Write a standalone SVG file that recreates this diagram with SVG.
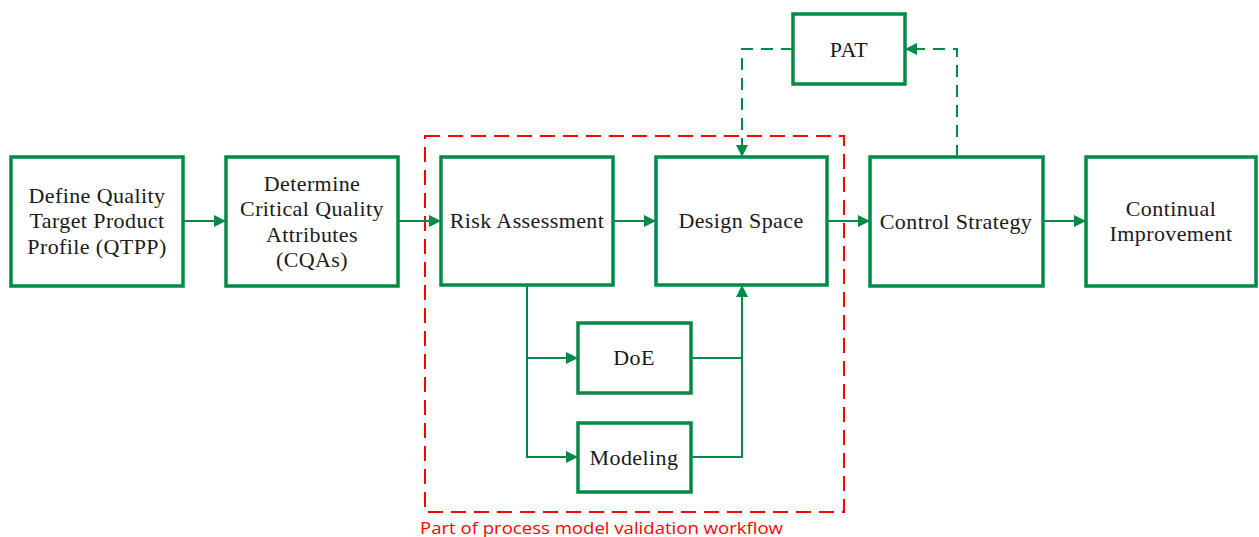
<svg xmlns="http://www.w3.org/2000/svg" width="1259" height="537" viewBox="0 0 1259 537">
<style>
.box{fill:#fff;stroke:#008a47;stroke-width:3.5}
.t{font-family:"Liberation Serif","DejaVu Serif",serif;font-size:22px;letter-spacing:0.4px;fill:#1a1a1a;text-anchor:middle;dominant-baseline:central}
.c{fill:none;stroke:#008a47;stroke-width:2}
.d{fill:none;stroke:#008a47;stroke-width:2;stroke-dasharray:12 8}
</style>
<defs>
<marker id="ah" viewBox="0 0 10 10" refX="10" refY="5" markerWidth="12" markerHeight="12" markerUnits="userSpaceOnUse" orient="auto"><path d="M0 0L10 5L0 10z" fill="#008a47"/></marker>
</defs>
<rect width="1259" height="537" fill="#fff"/>
<g id="region">
<rect x="425" y="136" width="419" height="376" fill="none" stroke="#ff0000" stroke-width="2" stroke-dasharray="15 8"/>
<text x="420" y="534" font-family="'Open Sans','Liberation Sans',sans-serif" font-size="17" fill="#ff0000" textLength="363" lengthAdjust="spacingAndGlyphs">Part of process model validation workflow</text>
</g>
<g id="connectors">
<path class="c" d="M183 221H226" marker-end="url(#ah)"/>
<path class="c" d="M398 221H441" marker-end="url(#ah)"/>
<path class="c" d="M613 221H656" marker-end="url(#ah)"/>
<path class="c" d="M827 221H870" marker-end="url(#ah)"/>
<path class="c" d="M1043 221H1086" marker-end="url(#ah)"/>
<path class="c" d="M527 285V358H578" marker-end="url(#ah)"/>
<path class="c" d="M527 358V457H578" marker-end="url(#ah)"/>
<path class="c" d="M691 358H742"/>
<path class="c" d="M691 457H742V285" marker-end="url(#ah)"/>
<path class="d" d="M793 49H742V157" marker-end="url(#ah)"/>
<path class="d" d="M957 157V49H905" marker-end="url(#ah)"/>
</g>
<g id="qtpp"><rect class="box" x="11" y="157" width="172" height="129"/>
<text class="t" x="97" y="195">Define Quality</text><text class="t" x="97" y="220">Target Product</text><text class="t" x="97" y="246">Profile (QTPP)</text></g>
<g id="cqas"><rect class="box" x="226" y="157" width="172" height="129"/>
<text class="t" x="312" y="183">Determine</text><text class="t" x="312" y="208">Critical Quality</text><text class="t" x="312" y="234">Attributes</text><text class="t" x="312" y="259">(CQAs)</text></g>
<g id="risk"><rect class="box" x="441" y="157" width="172" height="128"/>
<text class="t" x="527" y="220">Risk Assessment</text></g>
<g id="design"><rect class="box" x="656" y="157" width="171" height="128"/>
<text class="t" x="741" y="220">Design Space</text></g>
<g id="control"><rect class="box" x="870" y="157" width="173" height="129"/>
<text class="t" x="956" y="221">Control Strategy</text></g>
<g id="continual"><rect class="box" x="1086" y="157" width="170" height="129"/>
<text class="t" x="1171" y="208">Continual</text><text class="t" x="1171" y="233">Improvement</text></g>
<g id="pat"><rect class="box" x="793" y="14" width="112" height="70"/>
<text class="t" x="849" y="49">PAT</text></g>
<g id="doe"><rect class="box" x="578" y="323" width="113" height="70"/>
<text class="t" x="634" y="357">DoE</text></g>
<g id="modeling"><rect class="box" x="578" y="423" width="113" height="69"/>
<text class="t" x="634" y="457">Modeling</text></g>
</svg>
